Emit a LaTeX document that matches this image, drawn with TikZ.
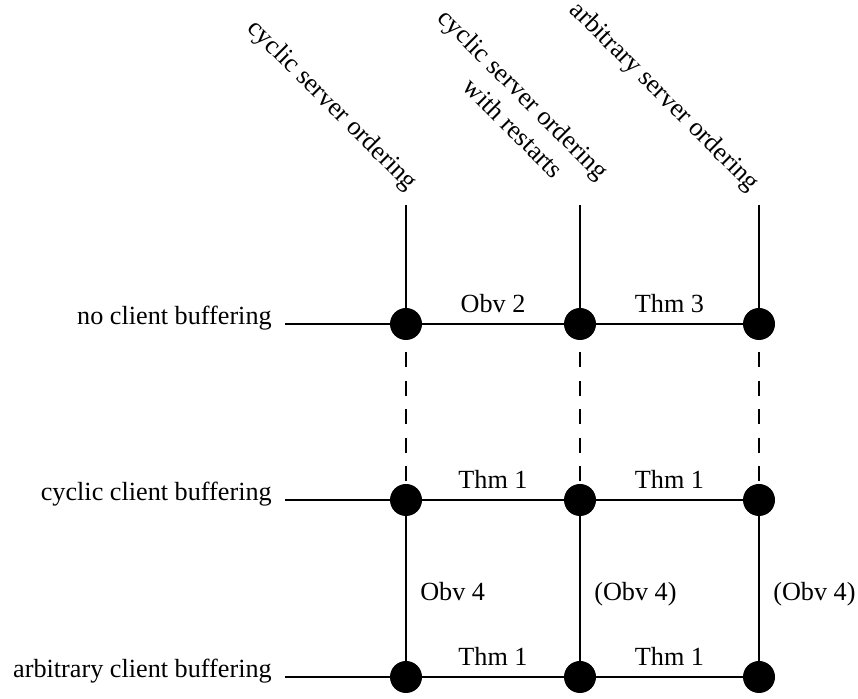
\documentclass[tikz,border=0pt]{standalone}
\usepackage{fontspec}
\setmainfont{Liberation Serif}
\usepackage{tikz}
\usetikzlibrary{arrows}

\tikzset{
  dot/.style={circle,fill=black,inner sep=0pt,minimum size=16pt},
  rowlab/.style={anchor=base east,inner sep=0pt},
  collab/.style={rotate=-45,anchor=south east,inner sep=0pt},
  hlab/.style={anchor=base,inner sep=0pt,yshift=5.5pt},
  vlab/.style={anchor=base west,inner sep=0pt,xshift=6.5pt,yshift=-6.25pt}
}

\begin{document}
\begin{tikzpicture}[x=0.5pt,y=-0.5pt,line width=1.3pt,font=\fontsize{13.1}{15.6}\selectfont]
\useasboundingbox (0,0) rectangle (858,699);
% grid points
\coordinate (A1) at (406,324);
\coordinate (A2) at (580,324);
\coordinate (A3) at (759,324);
\coordinate (B1) at (406,500);
\coordinate (B2) at (580,500);
\coordinate (B3) at (759,500);
\coordinate (C1) at (406,677);
\coordinate (C2) at (580,677);
\coordinate (C3) at (759,677);
% free ends
\coordinate (T1) at (406,205);
\coordinate (T2) at (580,205);
\coordinate (T3) at (759,205);
\coordinate (S1) at (285,324);
\coordinate (S2) at (285,500);
\coordinate (S3) at (285,677);

\node[rowlab] (X1) at (273,325) {no client buffering};
\node[rowlab] (X2) at (273,501) {cyclic client buffering};
\node[rowlab] (X3) at (273,678) {arbitrary client buffering};

\node[collab] (Y1) at (404,197) {cyclic server ordering};
\node[collab,align=center] (Y2) at (576,205) {cyclic server ordering\\\hspace*{17pt}with restarts};
\node[collab] (Y3) at (746,198) {arbitrary server ordering};

\path
  (T1) edge (A1)
  (T2) edge (A2)
  (T3) edge (A3)
  (S1) edge (A1)
  (S2) edge (B1)
  (S3) edge (C1)
  (A1) edge node[hlab] {Obv 2} (A2)
  (A2) edge node[hlab] {Thm 3} (A3)
  (B1) edge node[hlab] {Thm 1} (B2)
  (B2) edge node[hlab] {Thm 1} (B3)
  (C1) edge node[hlab] {Thm 1} (C2)
  (C2) edge node[hlab] {Thm 1} (C3)
  (B1) edge node[vlab] {Obv 4} (C1)
  (B2) edge node[vlab] {(Obv 4)} (C2)
  (B3) edge node[vlab] {(Obv 4)} (C3);

\path[dash pattern=on 7.5pt off 6.7pt]
  (A1) edge (B1)
  (A2) edge (B2)
  (A3) edge (B3);

\foreach \p in {A1,A2,A3,B1,B2,B3,C1,C2,C3}
  \node[dot] at (\p) {};
\end{tikzpicture}
\end{document}
